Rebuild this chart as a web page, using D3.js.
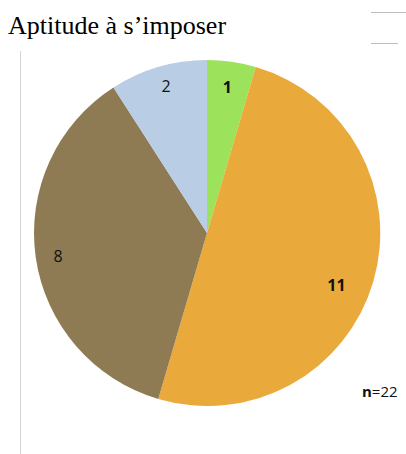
<!DOCTYPE html>
<html>
<head>
<meta charset="utf-8">
<script src="https://cdn.jsdelivr.net/npm/d3@7"></script>
<style>
	body { margin: 0; background: #fff; }
	svg { display: block; }
</style>
</head>
<body>
<div id="chart"></div>
<script>
/* chart data */
const title = "Aptitude à s’imposer";
const categories = ["a", "b", "c", "d"];
const values = [1, 11, 8, 2];
const colors = ["#9de25b", "#eaa93b", "#8f7b53", "#b9cde5"];

const width = 406, height = 454;
const cx = 207, cy = 233, radius = 173;

const svg = d3.select("#chart")
	.append("svg")
	.attr("width", width)
	.attr("height", height);

/* title */
svg.append("text")
	.attr("x", 8)
	.attr("y", 34)
	.attr("font-family", "Liberation Serif, Times New Roman, serif")
	.attr("font-size", 26)
	.attr("fill", "#000")
	.text(title);

/* decorative rules */
svg.append("line")
	.attr("x1", 371).attr("x2", 406).attr("y1", 12.5).attr("y2", 12.5)
	.attr("stroke", "#bdbdbd").attr("stroke-width", 1);
svg.append("line")
	.attr("x1", 371).attr("x2", 398).attr("y1", 43.5).attr("y2", 43.5)
	.attr("stroke", "#bdbdbd").attr("stroke-width", 1);
svg.append("line")
	.attr("x1", 20.5).attr("x2", 20.5).attr("y1", 51).attr("y2", height)
	.attr("stroke", "#d4d4d4").attr("stroke-width", 1);

/* pie */
const pie = d3.pie().sort(null).value(d => d);
const arcs = pie(values);
const arc = d3.arc().innerRadius(0).outerRadius(radius);

const g = svg.append("g").attr("transform", `translate(${cx},${cy})`);

g.selectAll("path")
	.data(arcs)
	.join("path")
	.attr("d", arc)
	.attr("fill", (d, i) => colors[i]);

/* label placement: radius fraction and vertical nudge per slice */
const labelRadius = [0.83, 0.78, 0.87, 0.84];
const labelNudge = [-3, 14, 2, -7];
const bold = [true, true, false, false];

g.selectAll("text.lbl")
	.data(arcs)
	.join("text")
	.attr("class", "lbl")
	.attr("transform", (d, i) => {
		const a = (d.startAngle + d.endAngle) / 2;
		const r = radius * labelRadius[i];
		return `translate(${r * Math.sin(a)},${-r * Math.cos(a) + labelNudge[i]})`;
	})
	.attr("text-anchor", "middle")
	.attr("dy", "0.35em")
	.attr("font-family", "Open Sans, Liberation Sans, sans-serif")
	.attr("font-size", 16)
	.attr("font-weight", (d, i) => bold[i] ? "bold" : "normal")
	.attr("fill", "#111")
	.text(d => d.data);

/* sample size note */
const note = svg.append("text")
	.attr("x", 362)
	.attr("y", 397)
	.attr("font-family", "Open Sans, Liberation Sans, sans-serif")
	.attr("font-size", 15)
	.attr("fill", "#111");
note.append("tspan").attr("font-weight", "bold").text("n");
note.append("tspan").text("=" + d3.sum(values));
</script>
</body>
</html>
